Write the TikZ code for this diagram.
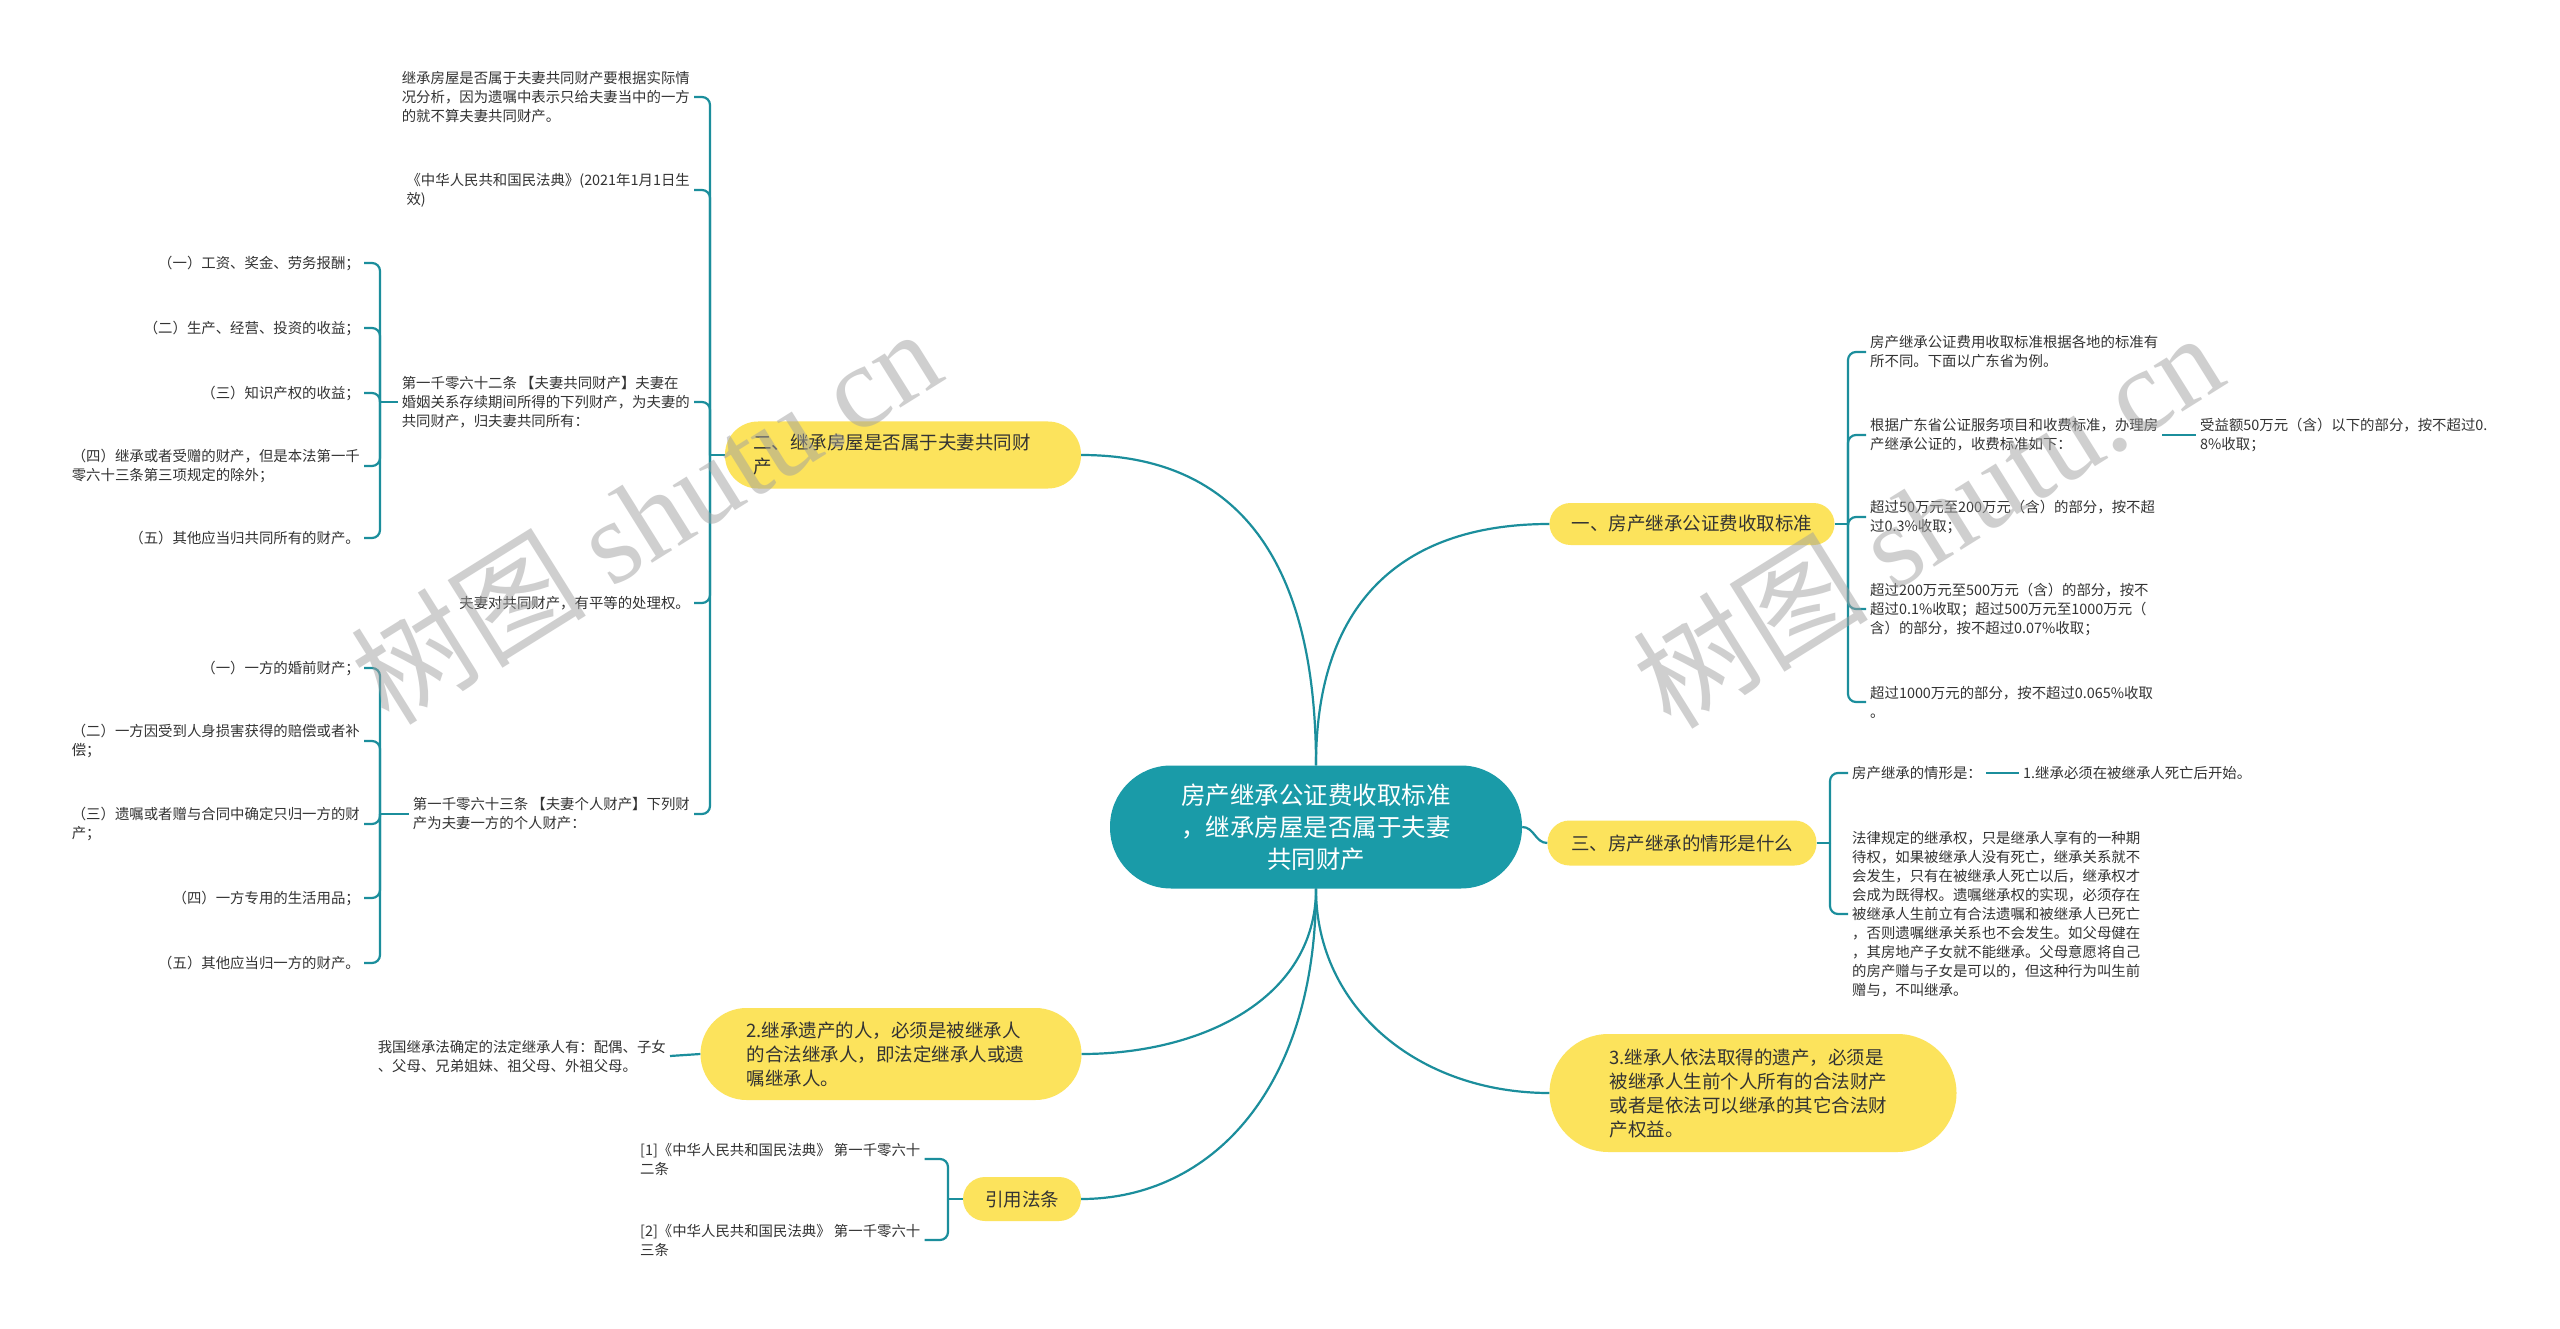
\documentclass[tikz,border=0pt]{standalone}
\usepackage{fontspec}
\setmainfont{Noto Sans CJK SC}
\newfontfamily\wmfont{Liberation Serif}
\definecolor{rootteal}{HTML}{1A9BA8}
\definecolor{pillyellow}{HTML}{FCE35C}
\definecolor{linkteal}{HTML}{1B8E9C}
\definecolor{inktext}{HTML}{333333}
\definecolor{wmgray}{HTML}{A0A0A0}

\begin{document}
\begin{tikzpicture}[x=1pt, y=-1pt,
    leaf/.style={font=\fontsize{14.4}{19}\selectfont, text=inktext, align=left, inner sep=4pt},
    pill/.style={fill=pillyellow, text=inktext, font=\fontsize{18.5}{24}\selectfont},
    rootnode/.style={fill=rootteal, text=white, font=\fontsize{24.5}{32}\selectfont, align=center},
    link/.style={draw=linkteal, line width=2.2pt},
    hook/.style={link, rounded corners=8pt},
    wm/.style={text=wmgray, opacity=0.5, font=\fontsize{118}{118}\selectfont}
]
\fill[white] (0,0) rectangle (2560,1329);
\useasboundingbox (0,0) rectangle (2560,1329);

% centre
\node[rootnode, minimum width=412pt, minimum height=123pt, rounded corners=61pt] (root) at (1316,827) {房产继承公证费收取标准\\，继承房屋是否属于夫妻\\共同财产};

% branches
\node[pill, align=center, minimum width=285pt, minimum height=42pt, rounded corners=21pt] (b1) at (1692,524) {一、房产继承公证费收取标准};
\node[pill, align=left, text width=300pt, inner xsep=28pt, minimum height=67pt, rounded corners=33pt] (b2) at (903,455) {二、继承房屋是否属于夫妻共同财\\产};
\node[pill, align=center, minimum width=269pt, minimum height=45pt, rounded corners=22pt] (b3) at (1682,843) {三、房产继承的情形是什么};
\node[pill, align=left, text width=289pt, inner xsep=46pt, minimum height=92pt, rounded corners=46pt] (b4) at (891,1054) {2.继承遗产的人，必须是被继承人\\的合法继承人，即法定继承人或遗\\嘱继承人。};
\node[pill, align=center, minimum width=118pt, minimum height=44pt, rounded corners=22pt] (b5) at (1022,1199) {引用法条};
\node[pill, align=left, text width=287pt, inner xsep=60pt, minimum height=118pt, rounded corners=59pt] (b6) at (1753,1093) {3.继承人依法取得的遗产，必须是\\被继承人生前个人所有的合法财产\\或者是依法可以继承的其它合法财\\产权益。};

% right side leaves
\node[leaf, anchor=west] (d1) at (1866,352) {房产继承公证费用收取标准根据各地的标准有\\所不同。下面以广东省为例。};
\node[leaf, anchor=west] (d2) at (1866,435) {根据广东省公证服务项目和收费标准，办理房\\产继承公证的，收费标准如下：};
\node[leaf, anchor=west] (d2a) at (2196,435) {受益额50万元（含）以下的部分，按不超过0.\\8\%收取；};
\node[leaf, anchor=west] (d3) at (1866,517) {超过50万元至200万元（含）的部分，按不超\\过0.3\%收取；};
\node[leaf, anchor=west] (d4) at (1866,609) {超过200万元至500万元（含）的部分，按不\\超过0.1\%收取；超过500万元至1000万元（\\含）的部分，按不超过0.07\%收取；};
\node[leaf, anchor=west] (d5) at (1866,702) {超过1000万元的部分，按不超过0.065\%收取\\。};

\node[leaf, anchor=west] (e1) at (1848,773) {房产继承的情形是：};
\node[leaf, anchor=west] (e1a) at (2019,773) {1.继承必须在被继承人死亡后开始。};
\node[leaf, anchor=west] (e2) at (1848,914) {法律规定的继承权，只是继承人享有的一种期\\待权，如果被继承人没有死亡，继承关系就不\\会发生，只有在被继承人死亡以后，继承权才\\会成为既得权。遗嘱继承权的实现，必须存在\\被继承人生前立有合法遗嘱和被继承人已死亡\\，否则遗嘱继承关系也不会发生。如父母健在\\，其房地产子女就不能继承。父母意愿将自己\\的房产赠与子女是可以的，但这种行为叫生前\\赠与，不叫继承。};

% left side leaves
\node[leaf, anchor=east] (c1) at (694,97) {继承房屋是否属于夫妻共同财产要根据实际情\\况分析，因为遗嘱中表示只给夫妻当中的一方\\的就不算夫妻共同财产。};
\node[leaf, anchor=east] (c2) at (694,190) {《中华人民共和国民法典》(2021年1月1日生\\效)};
\node[leaf, anchor=east] (c3) at (694,402) {第一千零六十二条 【夫妻共同财产】夫妻在\\婚姻关系存续期间所得的下列财产，为夫妻的\\共同财产，归夫妻共同所有：};
\node[leaf, anchor=east] (c4) at (694,603) {夫妻对共同财产，有平等的处理权。};
\node[leaf, anchor=east] (c5) at (694,814) {第一千零六十三条 【夫妻个人财产】下列财\\产为夫妻一方的个人财产：};

\node[leaf, anchor=east] (a1) at (364,263) {（一）工资、奖金、劳务报酬；};
\node[leaf, anchor=east] (a2) at (364,328) {（二）生产、经营、投资的收益；};
\node[leaf, anchor=east] (a3) at (364,393) {（三）知识产权的收益；};
\node[leaf, anchor=east] (a4) at (364,466) {（四）继承或者受赠的财产，但是本法第一千\\零六十三条第三项规定的除外；};
\node[leaf, anchor=east] (a5) at (364,538) {（五）其他应当归共同所有的财产。};

\node[leaf, anchor=east] (g1) at (364,668) {（一）一方的婚前财产；};
\node[leaf, anchor=east] (g2) at (364,741) {（二）一方因受到人身损害获得的赔偿或者补\\偿；};
\node[leaf, anchor=east] (g3) at (364,824) {（三）遗嘱或者赠与合同中确定只归一方的财\\产；};
\node[leaf, anchor=east] (g4) at (364,898) {（四）一方专用的生活用品；};
\node[leaf, anchor=east] (g5) at (364,963) {（五）其他应当归一方的财产。};

\node[leaf, anchor=east] (f1) at (670,1056) {我国继承法确定的法定继承人有：配偶、子女\\、父母、兄弟姐妹、祖父母、外祖父母。};

\node[leaf, anchor=west] (r1) at (636,1159) {[1]《中华人民共和国民法典》 第一千零六十\\二条};
\node[leaf, anchor=west] (r2) at (636,1240) {[2]《中华人民共和国民法典》 第一千零六十\\三条};

% centre to branches
\draw[link] (root.north) .. controls +(0,-170) and +(-140,0) .. (b1.west);
\draw[link] (root.north) .. controls +(0,-200) and +(160,0) .. (b2.east);
\draw[link] (root.east) .. controls +(12,0) and +(-12,0) .. (b3.west);
\draw[link] (root.south) .. controls +(0,110) and +(120,0) .. (b4.east);
\draw[link] (root.south) .. controls +(0,200) and +(130,0) .. (b5.east);
\draw[link] (root.south) .. controls +(0,120) and +(-130,0) .. (b6.west);

% brackets
\coordinate (j1) at (1848,524);
\coordinate (j2) at (710,455);
\coordinate (j3) at (1830,843);
\coordinate (jA) at (380,402);
\coordinate (jB) at (380,814);
\coordinate (j5) at (948,1199);

\draw[link] (b1.east) -- (j1);
\foreach \n in {d1,d2,d3,d4,d5} \draw[hook] (j1) |- (\n.west);
\draw[link] (d2.east) -- (d2a.west);

\draw[link] (b3.east) -- (j3);
\foreach \n in {e1,e2} \draw[hook] (j3) |- (\n.west);
\draw[link] (e1.east) -- (e1a.west);

\draw[link] (b2.west) -- (j2);
\foreach \n in {c1,c2,c3,c4,c5} \draw[hook] (j2) |- (\n.east);

\draw[link] (c3.west) -- (jA);
\foreach \n in {a1,a2,a3,a4,a5} \draw[hook] (jA) |- (\n.east);

\draw[link] (c5.west) -- (jB);
\foreach \n in {g1,g2,g3,g4,g5} \draw[hook] (jB) |- (\n.east);

\draw[link] (b4.west) -- (f1.east);

\draw[link] (b5.west) -- (j5);
\foreach \n in {r1,r2} \draw[hook] (j5) |- (\n.east);

% watermark
\node[wm, rotate=32] (wm1) at (645,515) {树图 \wmfont shutu.cn};
\node[wm, rotate=32] (wm2) at (1927,519) {树图 \wmfont shutu.cn};
\end{tikzpicture}
\end{document}
